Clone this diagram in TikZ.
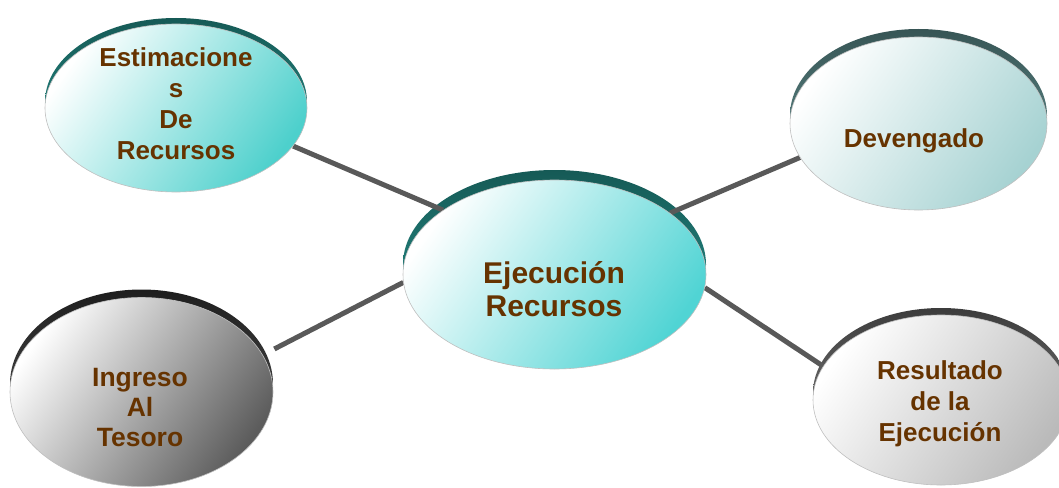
\documentclass[tikz,border=0pt]{standalone}
\usepackage{fontspec}
\setmainfont{Liberation Sans}
\usetikzlibrary{shapes.geometric,calc}
\pgfdeclarelayer{bg}
\pgfsetlayers{bg,main}
\definecolor{txt}{RGB}{102,51,0}
\definecolor{conn}{RGB}{89,89,89}
\definecolor{tealA}{RGB}{77,208,204}
\definecolor{tealB}{RGB}{80,212,212}
\definecolor{paleT}{RGB}{166,210,210}
\definecolor{grayD}{RGB}{92,92,92}
\definecolor{grayL}{RGB}{186,186,186}
\definecolor{rimTealD}{RGB}{22,90,86}
\definecolor{rimTealL}{RGB}{40,150,145}
\definecolor{rimSlateD}{RGB}{55,85,85}
\definecolor{rimSlateL}{RGB}{105,150,150}
\definecolor{rimGrayD}{RGB}{30,30,30}
\definecolor{rimGrayL}{RGB}{90,90,90}
\definecolor{rimGray2D}{RGB}{60,60,60}
\definecolor{rimGray2L}{RGB}{140,140,140}
\tikzset{
  bubble/.style={ellipse, inner sep=0pt, draw=black!25, line width=0.6pt},
  lbl/.style={text=txt, font=\bfseries, align=center, inner sep=0pt},
  link/.style={draw=conn, line width=5pt},
}
\begin{document}
\begin{tikzpicture}[x=1pt,y=-1pt]
\useasboundingbox (0,0) rectangle (1059,487);

% bodies
\node[bubble, minimum width=262, minimum height=168, top color=white, bottom color=tealA, shading angle=55] (est) at (176,108) {};
\node[bubble, minimum width=303, minimum height=189, top color=white, bottom color=tealB, shading angle=55] (cen) at (554.5,274.5) {};
\node[bubble, minimum width=257, minimum height=173, top color=white, bottom color=paleT, shading angle=55] (dev) at (918.5,123.5) {};
\node[bubble, minimum width=263, minimum height=189, top color=white, bottom color=grayD, shading angle=55] (ing) at (141.5,392) {};
\node[bubble, minimum width=256, minimum height=170, top color=white, bottom color=grayL, shading angle=55] (res) at (941,400) {};

% texts
\node[lbl, font=\bfseries\fontsize{26}{31}\selectfont] (estT) at (176,104) {Estimacione\\s\\De\\Recursos};
\node[lbl, font=\bfseries\fontsize{30}{33}\selectfont] (cenT) at (554,289) {Ejecución\\Recursos};
\node[lbl, font=\bfseries\fontsize{26}{31}\selectfont] (devT) at (914,140.5) {Devengado};
\node[lbl, font=\bfseries\fontsize{26.5}{30}\selectfont] (ingT) at (140,408) {Ingreso\\Al\\Tesoro};
\node[lbl, font=\bfseries\fontsize{26}{31}\selectfont] (resT) at (940,404) {Resultado\\de la\\Ejecución};

\begin{pgfonlayer}{bg}
  % rims
  \shade[top color=rimTealD, bottom color=rimTealL] ([yshift=6pt]est.center) ellipse [x radius=131, y radius=84];
  \shade[top color=rimTealD, bottom color=rimTealL] ([yshift=10pt]cen.center) ellipse [x radius=151.5, y radius=94.5];
  \shade[top color=rimSlateD, bottom color=rimSlateL] ([yshift=8pt]dev.center) ellipse [x radius=128.5, y radius=86.5];
  \shade[top color=rimGrayD, bottom color=rimGrayL] ([yshift=8pt]ing.center) ellipse [x radius=131.5, y radius=94.5];
  \shade[top color=rimGray2D, bottom color=rimGray2L] ([yshift=7pt]res.center) ellipse [x radius=128, y radius=85];
  % connectors
  \draw[link] (est.-18) -- (cen.150);
  \draw[link] ($(ing.17)!13pt!(cen.183)$) -- (cen.183);
  \draw[link] (dev.-164) -- (cen.28);
  \draw[link] (res.164) -- (cen.-5);
\end{pgfonlayer}
\end{tikzpicture}
\end{document}
